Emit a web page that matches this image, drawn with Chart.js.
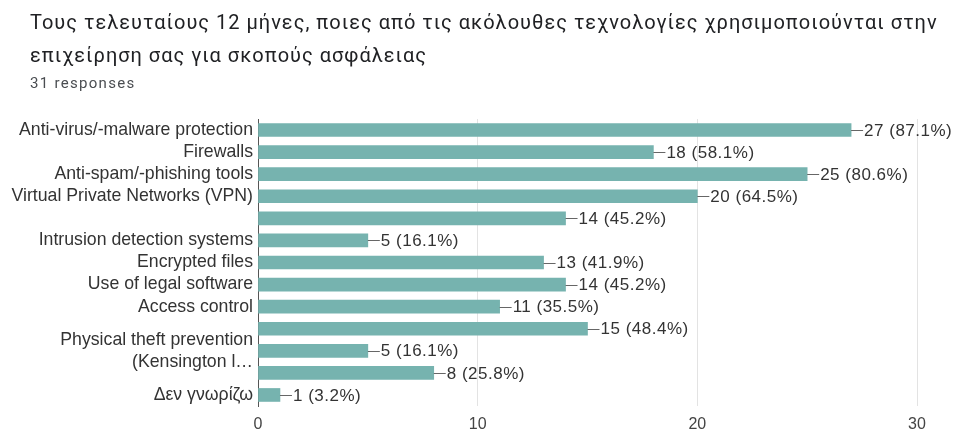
<!DOCTYPE html>
<html>
<head>
<meta charset="utf-8">
<script src="https://cdn.jsdelivr.net/npm/chart.js@4.4.1/dist/chart.umd.min.js"></script>
<style>
  html, body { margin: 0; padding: 0; background: #fff; }
  #wrap { position: relative; width: 957px; height: 432px; overflow: hidden; }
  #title { position: absolute; left: 30px; top: 6px; font-family: Roboto, sans-serif; font-size: 20px; letter-spacing: 1px; line-height: 33px; color: #202124; }
  #sub { position: absolute; left: 30px; top: 74px; font-family: Roboto, sans-serif; font-size: 15px; letter-spacing: 1.3px; color: #4a4d51; }
  canvas { position: absolute; left: 0; top: 0; }
</style>
</head>
<body>
<div id="wrap">
  <canvas id="chart" width="957" height="432"></canvas>
  <div id="title">Τους τελευταίους 12 μήνες, ποιες από τις ακόλουθες τεχνολογίες χρησιμοποιούνται στην<br>επιχείρηση σας για σκοπούς ασφάλειας</div>
  <div id="sub">31 responses</div>
</div>
<script>
// Rows with an empty label were left unlabeled in the original
const categories = [
  'Anti-virus/-malware protection',
  'Firewalls',
  'Anti-spam/-phishing tools',
  'Virtual Private Networks (VPN)',
  '',
  'Intrusion detection systems',
  'Encrypted files',
  'Use of legal software',
  'Access control',
  '',
  ['Physical theft prevention', '(Kensington l…'],
  '',
  'Δεν γνωρίζω'
];
const counts = [27, 18, 25, 20, 14, 5, 13, 14, 11, 15, 5, 8, 1];
const percents = ['87.1%', '58.1%', '80.6%', '64.5%', '45.2%', '16.1%', '41.9%', '45.2%', '35.5%', '48.4%', '16.1%', '25.8%', '3.2%'];
const xTicks = [0, 10, 20, 30];

const BAR = '#76b3af';
const TEXT = '#333333';
const FONT = '"Liberation Sans", Arial, sans-serif';

// draws "—27 (87.1%)" after each bar
const valueLabels = {
  id: 'valueLabels',
  afterDatasetsDraw(chart) {
    const ctx = chart.ctx;
    const meta = chart.getDatasetMeta(0);
    ctx.save();
    ctx.font = '17px ' + FONT;
    ctx.letterSpacing = '0.5px';
    ctx.fillStyle = TEXT;
    ctx.strokeStyle = '#666';
    ctx.lineWidth = 1;
    ctx.textBaseline = 'middle';
    meta.data.forEach((bar, i) => {
      const x = bar.x, y = Math.round(bar.y) + 0.5;
      ctx.beginPath();
      ctx.moveTo(x, y);
      ctx.lineTo(x + 12, y);
      ctx.stroke();
      ctx.fillText(counts[i] + ' (' + percents[i] + ')', x + 13, bar.y + 1);
    });
    ctx.restore();
  }
};

new Chart(document.getElementById('chart'), {
  type: 'bar',
  data: {
    labels: categories,
    datasets: [{
      data: counts,
      backgroundColor: BAR,
      barThickness: 13
    }]
  },
  options: {
    indexAxis: 'y',
    responsive: false,
    animation: false,
    layout: { padding: { top: 119, right: 40, bottom: 0, left: 0 } },
    plugins: { legend: { display: false }, tooltip: { enabled: false } },
    scales: {
      x: {
        min: 0, max: 30,
        afterBuildTicks(axis) { axis.ticks = xTicks.map(v => ({ value: v })); },
        afterFit(axis) { axis.height = 26; },
        grid: { color: '#e3e3e3', drawTicks: false },
        border: { display: false },
        ticks: { color: '#444', font: { family: FONT, size: 16 }, padding: 9 }
      },
      y: {
        afterFit(axis) { axis.width = 258; },
        grid: { display: false, drawTicks: false },
        border: { display: true, color: '#555', width: 1 },
        ticks: { color: TEXT, font: { family: FONT, size: 17.7, lineHeight: 1.25 }, padding: 5, autoSkip: false }
      }
    }
  },
  plugins: [valueLabels]
});
</script>
</body>
</html>
